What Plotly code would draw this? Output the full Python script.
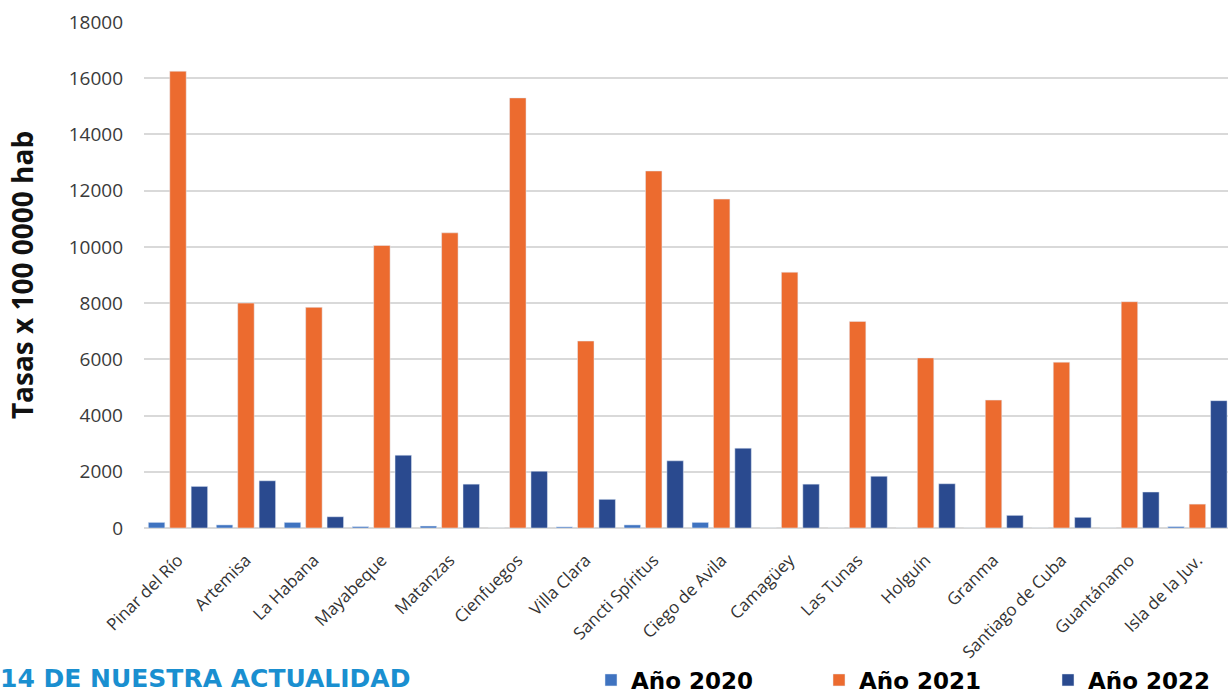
import plotly.graph_objects as go

provincias = ["Pinar del Río", "Artemisa", "La Habana", "Mayabeque", "Matanzas",
              "Cienfuegos", "Villa Clara", "Sancti Spíritus", "Ciego de Avila",
              "Camagüey", "Las Tunas", "Holguín", "Granma", "Santiago de Cuba",
              "Guantánamo", "Isla de la Juv."]
anio_2020 = [200, 110, 200, 50, 70, 0, 40, 110, 200, 0, 0, 0, 0, 0, 0, 50]
anio_2021 = [16250, 8000, 7850, 10050, 10500, 15300, 6650, 12700, 11700,
             9100, 7350, 6050, 4550, 5900, 8050, 850]
anio_2022 = [1480, 1680, 400, 2590, 1560, 2020, 1020, 2390, 2840,
             1560, 1840, 1575, 450, 380, 1280, 4530]
y_ticks = [0, 2000, 4000, 6000, 8000, 10000, 12000, 14000, 16000, 18000]

W, H = 1228, 695
ML, MR, MT, MB = 144, 0, 22, 167
PW, PH = W - ML - MR, H - MT - MB


def px_x(px):
    return (px - ML) / PW


def px_y(py):
    return (H - MB - py) / PH


legend_font = dict(family="DejaVu Sans", size=23, color="black", weight="bold")

fig = go.Figure()
fig.add_trace(go.Bar(name="Año 2020", x=provincias, y=anio_2020, marker_color="#3f73c0",
                     legend="legend", showlegend=True))
fig.add_trace(go.Bar(name="Año 2021", x=provincias, y=anio_2021, marker_color="#ec6b2f",
                     legend="legend2", showlegend=True))
fig.add_trace(go.Bar(name="Año 2022", x=provincias, y=anio_2022, marker_color="#2a4a8f",
                     legend="legend3", showlegend=True))

legend_common = dict(orientation="h", yanchor="middle", xanchor="left",
                     font=legend_font, bgcolor="rgba(0,0,0,0)", borderwidth=0)

fig.update_layout(
    width=W, height=H, showlegend=True,
    margin=dict(l=ML, r=MR, t=MT, b=MB, autoexpand=False),
    paper_bgcolor="white", plot_bgcolor="white",
    barmode="group", bargap=0.055, bargroupgap=0.23,
    font=dict(family="Open Sans", color="#404040"),
    legend=dict(x=px_x(591), y=px_y(680), **legend_common),
    legend2=dict(x=px_x(819), y=px_y(680), **legend_common),
    legend3=dict(x=px_x(1048), y=px_y(680), **legend_common),
    annotations=[dict(text="14 DE NUESTRA ACTUALIDAD", xref="paper", yref="paper",
                      x=px_x(-2), y=px_y(678), xanchor="left", yanchor="middle", showarrow=False,
                      font=dict(family="DejaVu Sans", size=25, color="#1a8fd0", weight="bold"))],
)
fig.update_xaxes(range=[-0.5, 15.45], tickangle=-45, showgrid=False, showline=False,
                 ticks="", ticklabelstandoff=18,
                 tickfont=dict(family="Open Sans", size=17, color="#333333"))
fig.update_yaxes(range=[0, 18000], tickvals=y_ticks, tickformat="d", showgrid=True,
                 gridcolor="#d9d9d9", gridwidth=1.5, zeroline=True, zerolinecolor="#d9d9d9",
                 zerolinewidth=1.5, ticklabelstandoff=20,
                 tickfont=dict(family="Open Sans", size=19, color="#3a3a3a"),
                 title=dict(text="Tasas x 100 0000 hab", standoff=26,
                            font=dict(family="Open Sans", size=28, color="#111111", weight="bold")))

fig.write_html("out.html")
